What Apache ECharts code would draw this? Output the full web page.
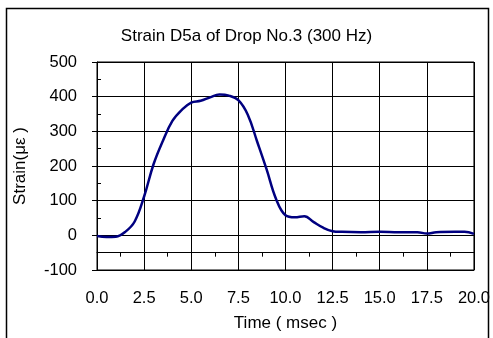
<!DOCTYPE html>
<html><head><meta charset="utf-8">
<script src="https://cdn.jsdelivr.net/npm/echarts@6/dist/echarts.min.js"></script>
<style>html,body{margin:0;padding:0;background:#fff}#c{width:493px;height:338px}</style>
</head><body><div id="c"></div>
<script>
var times  = [0,0.5,1.0,1.5,2.0,2.5,3.0,3.5,4.0,4.5,5.0,5.5,6.0,6.5,7.0,7.5,8.0,8.5,9.0,9.5,10.0,10.5,11.0,11.5,12.0,12.5,13.0,14.0,15.0,16.0,17.0,17.5,18.0,19.0,19.5,20.0];
var strain = [-2,-5,-4,10,40,112,205,273,330,362,383,388,398,406,403,390,348,270,190,105,58,52,55,38,22,12,10,9,10,9,9,5,9,10,10,4];
var xTickLabels = ['0.0','2.5','5.0','7.5','10.0','12.5','15.0','17.5','20.0'];
var titleText = 'Strain D5a of Drop No.3 (300 Hz)';
var xName = 'Time ( msec )';
var yName = 'Strain(με )';

var chart = echarts.init(document.getElementById('c'));
var font = 'Liberation Sans, Arial, sans-serif';
var pts = times.map(function(t,i){return [t, strain[i]];});
chart.setOption({
  animation:false,
  title:{text:titleText,left:'center',top:23,textStyle:{fontFamily:font,fontSize:17,fontWeight:'normal',color:'#000'}},
  graphic:[{type:'rect',shape:{x:6.5,y:8.5,width:482,height:340},style:{fill:'none',stroke:'#000',lineWidth:1.5}}],
  grid:{left:97,right:16,top:62,bottom:68,show:true,borderColor:'#000',borderWidth:1,containLabel:false},
  xAxis:[{
    type:'value',min:0,max:20,interval:2.5,position:'bottom',
    name:xName,nameLocation:'middle',nameGap:45,
    nameTextStyle:{fontFamily:font,fontSize:17,color:'#000',verticalAlign:'top'},
    axisLine:{show:true,onZero:false,lineStyle:{color:'#000',width:1}},
    axisTick:{show:false},
    axisLabel:{fontFamily:font,fontSize:16.5,color:'#000',margin:20,formatter:function(v){var i=Math.round(v/2.5);return xTickLabels[i]||'';}},
    splitLine:{show:true,lineStyle:{color:'#000',width:1}}
  },{
    type:'value',min:0,max:20,interval:1.25,
    axisLine:{show:true,onZero:true,onZeroAxisIndex:1,lineStyle:{color:'#000',width:1}},
    axisTick:{show:true,inside:true,length:4,lineStyle:{color:'#000'}},
    axisLabel:{show:false},splitLine:{show:false}
  }],
  yAxis:[{
    type:'value',min:-100,max:500,interval:100,position:'left',
    name:yName,nameLocation:'middle',nameGap:68,
    nameTextStyle:{fontFamily:font,fontSize:17,color:'#000'},
    axisLine:{show:true,lineStyle:{color:'#000',width:1}},
    axisTick:{show:true,inside:false,length:5,lineStyle:{color:'#000'}},
    axisLabel:{fontFamily:font,fontSize:16.5,color:'#000',margin:20},
    splitLine:{show:true,lineStyle:{color:'#000',width:1}}
  },{
    type:'value',min:-50,max:550,interval:50,position:'left',offset:0,
    axisLine:{show:false,onZero:false},
    axisTick:{show:true,inside:true,length:4,lineStyle:{color:'#000'}},
    axisLabel:{show:false},splitLine:{show:false}
  }],
  series:[{
    type:'line',xAxisIndex:0,yAxisIndex:0,data:pts,smooth:0.4,showSymbol:false,
    lineStyle:{color:'#000080',width:2.5}
  }]
});
</script></body></html>
